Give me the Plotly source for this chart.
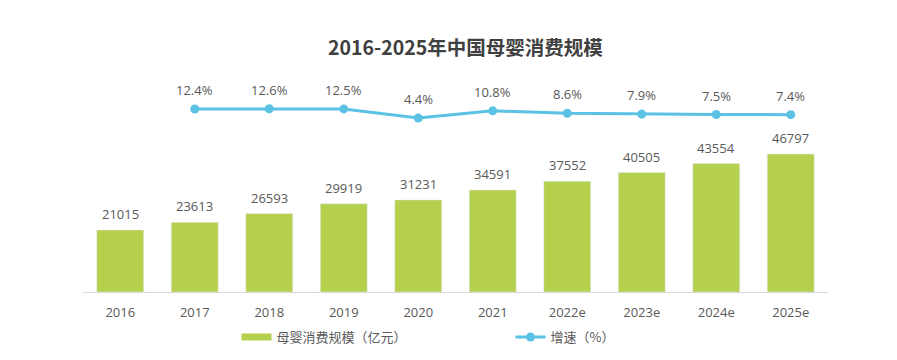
import plotly.graph_objects as go

categories = ["2016", "2017", "2018", "2019", "2020", "2021", "2022e", "2023e", "2024e", "2025e"]
scale_values = [21015, 23613, 26593, 29919, 31231, 34591, 37552, 40505, 43554, 46797]
growth_categories = ["2017", "2018", "2019", "2020", "2021", "2022e", "2023e", "2024e", "2025e"]
growth_values = [12.4, 12.6, 12.5, 4.4, 10.8, 8.6, 7.9, 7.5, 7.4]
growth_labels = ["12.4%", "12.6%", "12.5%", "4.4%", "10.8%", "8.6%", "7.9%", "7.5%", "7.4%"]

BAR = "#B5D04C"
LINE = "#5BC2E4"
TXT = "#595959"
NUM_FONT = "Open Sans, Noto Sans CJK SC, sans-serif"
CJK_FONT = "Noto Sans CJK SC, sans-serif"

fig = go.Figure()
fig.add_trace(go.Bar(
    x=categories, y=scale_values, marker_color=BAR, showlegend=False,
    name="母婴消费规模（亿元）", yaxis="y",
))
# legend swatch for the bars
fig.add_trace(go.Scatter(
    x=[categories[0]], y=[None], mode="lines", line=dict(color=BAR, width=7),
    name="母婴消费规模（亿元）", yaxis="y",
))
fig.add_trace(go.Scatter(
    x=growth_categories, y=growth_values, mode="lines+markers",
    line=dict(color=LINE, width=3), marker=dict(size=9, color=LINE),
    name="增速（%）", yaxis="y2", cliponaxis=False,
))

annotations = []
for i, v in enumerate(scale_values):
    annotations.append(dict(x=i, y=v, xref="x", yref="y", text=str(v), showarrow=False,
                            yshift=16, font=dict(size=13, color=TXT, family=NUM_FONT)))
for c, v, t in zip(growth_categories, growth_values, growth_labels):
    i = categories.index(c)
    annotations.append(dict(x=i, y=v, xref="x", yref="y2", text=t, showarrow=False,
                            yshift=19, font=dict(size=13, color=TXT, family=NUM_FONT)))

fig.update_layout(
    width=897, height=360,
    margin=dict(l=75, r=77, t=52, b=76),
    paper_bgcolor="white", plot_bgcolor="white",
    title=dict(text="<b>2016-2025年中国母婴消费规模</b>", x=0.510, xanchor="center",
               y=1 - 40 / 360, yanchor="middle", yref="container",
               font=dict(size=19.5, color="#404040", family=CJK_FONT)),
    bargap=0.37,
    xaxis=dict(type="category", categoryorder="array", categoryarray=categories,
               range=[-0.5, len(categories) - 0.5],
               showline=True, linecolor="#D9D9D9", linewidth=1,
               ticks="", ticklabelstandoff=8,
               tickfont=dict(size=13, color=TXT, family=NUM_FONT),
               showgrid=False, zeroline=False),
    yaxis=dict(range=[0, 78674], visible=False, showgrid=False, zeroline=False),
    yaxis2=dict(range=[-150.2, 55.96], overlaying="y", visible=False,
                showgrid=False, zeroline=False),
    legend=dict(orientation="h", x=0.206, xanchor="left", y=-0.194, yanchor="middle",
                entrywidth=229, entrywidthmode="pixels",
                font=dict(size=13, color=TXT, family=CJK_FONT)),
    annotations=annotations,
)

fig.write_html("out.html")
